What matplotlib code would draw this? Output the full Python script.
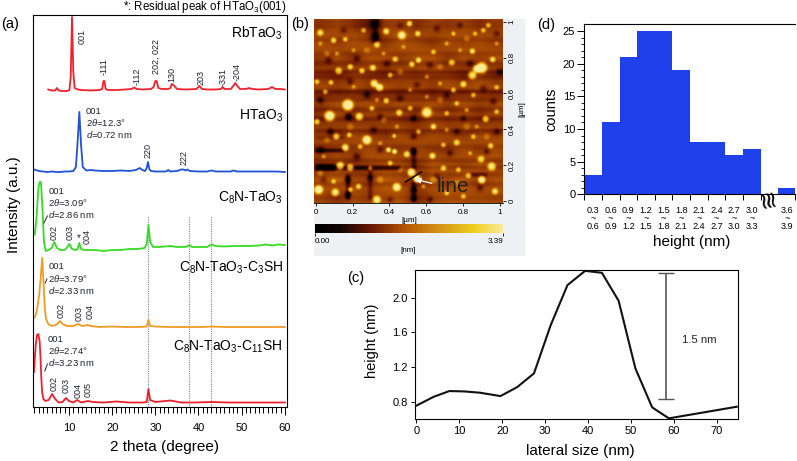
import numpy as np
import matplotlib
matplotlib.use('Agg')
import matplotlib.pyplot as plt
from matplotlib.colors import LinearSegmentedColormap
from matplotlib.patches import Rectangle

plt.rcParams['font.family'] = ['Liberation Sans', 'DejaVu Sans']
plt.rcParams['mathtext.fontset'] = 'custom'
plt.rcParams['mathtext.rm'] = 'Liberation Sans'
plt.rcParams['mathtext.it'] = 'Liberation Sans:italic'
plt.rcParams['mathtext.default'] = 'regular'

W = 797
H = 461

# ---- (a) XRD curves, intensity is an offset scale with every curve stacked
rb_x = [5.2,6.0,6.8,7.2,7.6,8.5,9.5,10.1,10.4,10.7,11.0,11.3,12,13,15,17,17.7,18.0,18.2,18.5,19,21,23,24.5,25.1,25.7,27,29,29.6,30.0,30.3,30.7,31.5,33,33.5,33.8,34.2,35,37,39.5,40.2,40.8,42,44,45.2,45.6,46,47.5,48.2,48.5,49,49.6,51,51.7,52.4,54,56.2,57,57.8,59,60]
rb_y = [317.5,316.5,316.5,319,316.5,316,316,317,330,390,335,319,317.5,317,316.5,317,318,326,326,318,317,317,317.5,318,319.5,318,317.5,318,320,326,326,319,318,318,319,323,322,318,317.5,318,321,318,317.5,317.5,318,320,318,318,322,324,321,318,318,319,318,317.5,318,320,318,318,317.5]

blue_x = [1.9,3,4,5,6,7,8,9,10,11,11.6,12.0,12.4,12.8,13.2,14,15,16,18,20,22,24,25.5,26.4,27,27.6,28.0,28.3,28.6,29,30,31,32.5,33,33.5,35,36,36.5,37,37.4,38,40,42,43,44,46,47.5,48,49,52,54,56,58,60]
blue_y = [237.5,236,235.5,235,235.5,235,235,235.5,235.5,236,240,265,295,262,240,236.5,237,236.5,236,236,236.5,236,237,239,237,236,239,245,238,236,235.5,235.5,235.5,237,235.5,236,237.5,237.5,236.5,237.5,236,235.5,235.5,236.5,235.5,235.5,235.5,236.5,235.5,235.5,235.5,235.5,235.5,235]

green_x = [1.8,2.1,2.5,2.9,3.2,3.5,3.9,4.2,4.6,5.2,6,6.6,7.2,8,9,9.6,10.1,10.7,11.5,12,12.4,12.8,13.5,14.5,16,18,20,22,24,26,27.5,28,28.4,28.8,29.5,31,33.5,35,37,37.9,38.5,40,42,43,44,46,48,50,52,54,55.5,57,58.5,60]
green_y = [172,173,190,218,225,225,195,165,156,157,159,165,159,157,157,160,163,158,157,158,164,158,157,157,157,156,157,157,158,158,159,163,182,165,160,160,161,160,160,162,160,160,160,162.5,161,160.5,161,161,161,161.5,162.5,161.5,162.5,162]

orange_x = [1.9,2.3,2.7,3.1,3.5,3.8,4.1,4.4,4.7,5.2,6,7,7.5,7.9,8.5,9.5,11,12.2,13,14.4,15,17,20,23,26,28,28.4,28.8,30,33,36,38,41,43,46,50,54,57,60]
orange_y = [89,92,100,112,132,149,125,98,88,83,81,82,84,86,83,81,81,83,81,82,81,80,80.5,80,80,80.5,87,81,80.5,80,80,80,80,80.5,80,80,80,80,80]

red_x = [1.9,2.1,2.3,2.6,2.9,3.2,3.4,3.6,3.8,4.1,4.5,5.3,6.1,6.8,7.6,8.5,9.3,10,11,11.9,12.8,14.4,15.5,18,21,24,27,28,28.4,28.8,30,33.5,36,39,43,47,52,56,60]
red_y = [35,50,62,72,73,66,50,28,14,8,6,7,13,8,4.5,5,9,6,4.5,7,4.5,6,5,4.5,5.5,4.5,4.5,5,18,7,5,6.5,4.5,4.5,5,4.5,4.5,4.5,4.5]

guide_x = [28.4, 37.9, 43.0]

a_names = ['RbTaO$_3$', 'HTaO$_3$', 'C$_8$N-TaO$_3$', 'C$_8$N-TaO$_3$-C$_3$SH', 'C$_8$N-TaO$_3$-C$_{11}$SH']

# hkl labels, (text, x pixel, y pixel)
hkl_labels = [('001',82.3,36),('-111',104,66.7),('-112',136.7,76),('202, 022',156.7,56.7),('130',172.3,75),('203',201,77.7),('-331',223.3,76.7),('-204',237.3,71.7),
              ('220',148,150),('222',184,157.7),
              ('002',54.3,232),('003',70,232),('004',87.3,236),
              ('002',61,310),('003',78.7,313),('004',90,311.7),
              ('002',54.3,383),('003',66,385),('004',77.7,390),('005',88,389)]
peak_notes = [(85.7,111.7,'001'),(85.7,122.7,r'2$\mathit{\theta}$=12.3°'),(85.7,134.3,r'$\mathit{d}$=0.72 nm'),
              (48.3,191.7,'001'),(48.3,203,r'2$\mathit{\theta}$=3.09°'),(48.3,215,r'$\mathit{d}$=2.86 nm'),
              (48.3,266.7,'001'),(48.3,278.3,r'2$\mathit{\theta}$=3.79°'),(48.3,290,r'$\mathit{d}$=2.33 nm'),
              (47.7,339.3,'001'),(47.7,350.7,r'2$\mathit{\theta}$=2.74°'),(47.7,362.7,r'$\mathit{d}$=3.23 nm')]
# small strokes that tie a note to its peak: 2theta pair, intensity pair
note_strokes = [([4.2,5.0],[184,191]),([4.5,4.9],[124,128]),([4.4,5.0],[36,43])]

# ---- (b) AFM grains: x, y (pixels in the 3x crop), radius, height
grains = [(305,105,12,.6),(222,250,11,.62),(238,262,11,.62),(143,315,16,.8),(88,348,15,.75),(177,350,11,.6),(545,203,16,.75),(530,207,11,.65),(517,225,12,.6),(380,337,15,.65),
          (200,420,13,.7),(265,450,7,.7),(283,455,7,.7),(135,443,10,.65),(55,570,13,.7),(105,578,11,.6),(120,498,11,.65),(150,503,10,.65),(335,518,12,.8),(350,537,11,.85),
          (290,562,12,.65),(230,600,12,.6),(545,540,11,.7),(575,500,12,.6),(543,478,10,.5),(397,468,9,.55),(320,463,9,.55),(115,212,10,.55),(185,212,8,.55),(218,203,9,.55),
          (150,200,8,.55),(60,97,9,.55),(100,120,8,.55),(135,117,7,.5),(258,93,9,.55),(190,90,7,.45),(328,70,8,.6),(353,100,8,.55),(230,133,9,.55),(285,177,8,.5),
          (335,192,8,.55),(355,180,8,.55),(455,187,9,.5),(517,153,8,.55),(578,178,8,.55),(400,155,7,.45),(550,90,7,.45),(565,75,7,.45),(460,100,6,.45),(525,100,6,.45),
          (270,225,7,.5),(50,245,7,.5),(92,247,7,.5),(75,275,7,.45),(490,252,9,.55),(460,270,7,.5),(520,285,7,.45),(590,262,7,.45),(258,302,8,.55),(215,325,7,.5),
          (297,338,9,.55),(330,325,7,.45),(50,365,8,.55),(108,410,9,.55),(147,405,7,.5),(282,408,6,.5),(400,380,8,.55),(355,395,7,.45),(440,340,7,.45),(470,310,7,.45),
          (557,357,9,.55),(590,335,7,.45),(470,428,9,.5),(520,410,7,.45),(430,435,7,.45),(572,438,8,.5),(430,505,8,.5),(505,527,8,.55),(475,510,7,.45),(270,490,7,.5),
          (210,505,7,.5),(175,560,8,.5),(150,570,7,.5),(100,545,7,.45),(440,580,7,.45),(490,590,7,.45),(585,575,9,.55),(180,440,7,.45),(60,130,6,.3),(160,150,6,.3),
          (110,160,6,.3),(250,160,6,.3),(310,140,6,.3),(440,130,6,.35),(480,150,6,.3),(590,130,6,.3),(380,230,6,.3),(420,250,6,.35),(330,270,6,.3),(160,260,6,.3),
          (230,300,6,.3),(380,290,6,.3),(500,330,6,.35),(290,380,6,.3),(440,390,6,.3),(530,380,6,.3),(240,430,6,.3),(510,460,6,.35),(70,470,6,.3),(370,560,6,.3),
          (80,160,9,.15),(200,150,9,.15),(300,215,9,.15),(420,200,9,.15),(500,115,9,.15),(150,380,10,.15),(250,360,9,.15),(420,300,9,.15),(500,380,10,.15),(240,540,10,.2),
          (400,540,10,.2),(470,550,9,.2),(60,520,9,.2),(300,510,8,.15),(80,420,9,.15),(560,410,9,.15)]
# dark pits scattered between the grains: x, y, radius, depth
pits = [(225,70,14,.22),(225,110,14,.22),(130,90,9,.12),(300,75,9,.1),(410,85,10,.12),(480,75,9,.12),(590,100,9,.12),(85,180,10,.14),(170,175,9,.14),(260,190,10,.14),
        (390,195,10,.14),(510,190,10,.14),(600,215,10,.16),(150,245,10,.14),(350,255,10,.14),(550,265,10,.14),(60,300,10,.16),(200,285,10,.16),(300,295,10,.14),(440,285,9,.14),
        (580,305,10,.14),(145,350,9,.3),(240,350,9,.14),(340,355,9,.18),(490,355,9,.14),(90,395,9,.18),(220,390,10,.14),(340,410,9,.16),(470,395,9,.14),(590,395,9,.14),
        (60,450,9,.16),(170,470,10,.16),(240,450,9,.14),(340,455,10,.22),(450,460,9,.14),(560,455,8,.14),(210,535,9,.18),(143,540,9,.22),(143,585,9,.22),(340,570,9,.2),
        (340,595,8,.22),(410,530,9,.12),(540,565,9,.14),(70,540,9,.12),(270,600,8,.12),(390,600,8,.14)]
# dark scan lines and gouges: x0, x1, y0, y1 (3x crop pixels), depth
dark_marks = [(45,105,495,511,.42),(105,300,498,509,.3),(45,130,448,456,.3),(45,130,410,415,.12),(137,149,525,600,.2),(335,346,445,605,.18),(218,232,60,130,.12),
              (205,215,500,600,.14),(45,610,270,279,.1),(45,610,296,303,.1),(45,610,212,219,.08),(45,610,388,394,.1),(300,610,498,506,.08),
              (45,610,60,68,.06),(500,560,520,530,.15)]
# level shift of the scan rows, one value per 14 px of the 3x crop, top row first
scan_rows = [.02,-.03,.01,.03,-.02,.02,.03,-.01,.02,-.03,.03,.01,-.04,.02,.03,-.03,-.05,.03,.02,-.04,.03,-.05,.02,.03,-.03,.02,.03,-.02,.01,.03,-.03,.03,.02,-.02,.03,-.02,.03,.01,-.02,.02]
# coarse surface level, top row first
surface_levels = [[.40,.44,.38,.30,.42,.44,.38,.44,.40,.44,.38,.42],
                  [.44,.38,.46,.42,.36,.46,.42,.36,.44,.40,.44,.38],
                  [.38,.44,.34,.44,.44,.38,.44,.46,.36,.44,.40,.44],
                  [.36,.32,.40,.38,.32,.40,.36,.40,.38,.32,.38,.34],
                  [.42,.38,.44,.36,.44,.38,.44,.36,.44,.40,.46,.40],
                  [.38,.44,.40,.44,.38,.44,.40,.44,.38,.44,.38,.44],
                  [.34,.40,.34,.38,.40,.36,.32,.40,.36,.40,.34,.38],
                  [.42,.36,.44,.40,.36,.44,.38,.44,.42,.38,.44,.40],
                  [.36,.42,.38,.44,.42,.38,.44,.38,.36,.44,.38,.44],
                  [.38,.40,.36,.40,.44,.44,.34,.46,.44,.40,.46,.40],
                  [.44,.48,.42,.38,.46,.42,.36,.44,.40,.46,.36,.44],
                  [.42,.36,.44,.40,.44,.46,.34,.42,.46,.44,.44,.42]]
afm_ticks = [0, 0.2, 0.4, 0.6, 0.8, 1]
afm_tick_labels = ['0', '0.2', '0.4', '0.6', '0.8', '1']

# ---- (c) line profile
size_nm = [0,4.1,7.7,11.1,14.8,19.6,23.5,27.4,31.3,35.2,39.3,43.2,47.1,51,54.9,58.8,74.6]
height_nm = [.754,.858,.923,.919,.904,.865,.969,1.127,1.685,2.146,2.31,2.288,1.965,1.185,.735,.608,.742]
bar_x = 58.05
bar_low = 0.827
bar_high = 2.288

# ---- (d) histogram, last bar sits after the axis break
counts = [3,11,21,25,25,19,8,8,6,7,1]
bin_pos = [0,1,2,3,4,5,6,7,8,9,11]
bin_low = ['0.3','0.6','0.9','1.2','1.5','1.8','2.1','2.4','2.7','3.0','3.6']
bin_high = ['0.6','0.9','1.2','1.5','1.8','2.1','2.4','2.7','3.0','3.3','3.9']


def fx(x):
    return x/W

def fy(y):
    return 1-y/H

def axes_px(fig, left, top, right, bottom):
    # axes placed from pixel edges of the picture
    return fig.add_axes([left/W, 1-bottom/H, (right-left)/W, (bottom-top)/H])

def label_px(fig, x, y, s, **kw):
    kw.setdefault('ha', 'center')
    kw.setdefault('va', 'center')
    return fig.text(fx(x), fy(y), s, **kw)

def blur(a, n):
    # box blur along both directions, edges held
    k = np.ones(n)/n
    m = n//2
    run = lambda v: np.convolve(np.pad(v, (m, n-1-m), mode='edge'), k, mode='valid')
    return np.apply_along_axis(run, 1, np.apply_along_axis(run, 0, a))


fig = plt.figure(figsize=(W/100, H/100), dpi=100, facecolor='white')

# panel letters and the note on top
label_px(fig, 10, 24, '(a)', fontsize=10.5)
label_px(fig, 300, 24, '(b)', fontsize=10.5)
label_px(fig, 546, 25, '(d)', fontsize=10.5)
label_px(fig, 356, 278, '(c)', fontsize=10.5)
label_px(fig, 287, 7, '*: Residual peak of HTaO$_3$(001)', ha='right', fontsize=8.3)

# (a)
ax = axes_px(fig, 32.5, 15.5, 287, 407)
ax.set_xlim(1.55, 60.5)
ax.set_ylim(0, 391.5)
ax.vlines(guide_x, 0, 190, color='#7788aa', lw=0.8, ls=(0, (1, 1)), zorder=1)
ax.plot(rb_x, rb_y, color='#f2202a', lw=1.3, zorder=2)
ax.plot(blue_x, blue_y, color='#1f52d8', lw=1.3, zorder=2)
ax.plot(green_x, green_y, color='#35dc22', lw=1.3, zorder=2)
ax.plot(orange_x, orange_y, color='#f09a22', lw=1.3, zorder=2)
ax.plot(red_x, red_y, color='#f0202a', lw=1.3, zorder=2)
for sx, sy in note_strokes:
    ax.plot(sx, sy, color='#222233', lw=0.7, zorder=3)
ax.set_yticks([])
ax.set_xticks([10, 20, 30, 40, 50, 60])
ax.set_xticks(np.arange(2, 61), minor=True)
ax.tick_params(axis='x', which='major', length=5.8, width=0.7, labelsize=8, pad=5.5)
ax.tick_params(axis='x', which='minor', length=4, width=0.7)
for s in ax.spines.values():
    s.set_linewidth(0.8)
label_px(fig, 165, 447, '2 theta (degree)', fontsize=11)
label_px(fig, 14, 205, 'Intensity (a.u.)', fontsize=11, rotation=90)
for name, yp in zip(a_names, [33, 116, 198, 268, 347]):
    label_px(fig, 283, yp, name, ha='right', fontsize=10)
for s, xp, yp in hkl_labels:
    label_px(fig, xp, yp, s, rotation=90, fontsize=6.5, color='#222233')
label_px(fig, 79, 238, '*', fontsize=7, color='#222233')
for xp, yp, s in peak_notes:
    label_px(fig, xp, yp, s, ha='left', fontsize=6.8, color='#222233')

# (b) grey card behind the AFM image
fig.patches.append(Rectangle((fx(314), fy(256)), 211/W, 237/H, transform=fig.transFigure, facecolor='#eef1f3', edgecolor='none', zorder=-1))

zx, zy = np.meshgrid(np.arange(42, 610, 2.0), np.arange(57, 610, 2.0))
levels = np.array(surface_levels)
row = np.clip(((zy-57)/553*12).astype(int), 0, 11)
col = np.clip(((zx-42)/568*12).astype(int), 0, 11)
surface = blur(levels[row, col], 25)
shifts = np.array(scan_rows)
marks = -shifts[np.clip(((zy-57)/14).astype(int), 0, len(scan_rows)-1)]
for x0, x1, y0, y1, depth in dark_marks:
    marks = marks+depth*((zx >= x0) & (zx <= x1) & (zy >= y0) & (zy <= y1))
surface = surface-blur(marks, 5)
for px_, py_, r, depth in pits:
    surface = surface-1.3*depth*np.exp(-((zx-px_)**2+(zy-py_)**2)/r**2)
# grains are flat topped, so the fourth power of the distance
for gx, gy, r, amp in grains:
    surface = surface+amp*np.exp(-(((zx-gx)**2+(zy-gy)**2)/r**2)**2)

afm_cmap = LinearSegmentedColormap.from_list('afm', [(0, '#000000'), (0.14, '#120400'), (0.3, '#6a1800'), (0.5, '#bb5c06'), (0.62, '#cf8410'), (0.85, '#f0d020'), (1, '#f8ec9c')])
ax = axes_px(fig, 314, 19, 502.7, 203)
ax.set_facecolor('black')
x_lo, x_hi = -0.009, 1.015
y_lo, y_hi = -0.011, 1.015
ax.imshow(blur(surface, 3), cmap=afm_cmap, vmin=0, vmax=1, extent=[x_lo, x_hi, y_lo, y_hi], aspect='auto', interpolation='bilinear')
ax.set_xlim(x_lo, x_hi)
ax.set_ylim(y_lo, y_hi)
ax.yaxis.tick_right()
ax.set_xticks(afm_ticks, afm_tick_labels)
ax.set_yticks(afm_ticks, afm_tick_labels)
ax.tick_params(axis='both', length=2.5, width=0.6, labelsize=5.8, pad=1.5)
for t in ax.get_yticklabels():
    t.set_rotation(90)
    t.set_va('center')
for s in ['top', 'right', 'left']:
    ax.spines[s].set_visible(False)
ax.spines['bottom'].set_linewidth(0.6)
ax.plot([0.487, 0.574], [0.106, 0.162], color='black', lw=1)
ax.annotate('', xy=(0.525, 0.125), xytext=(0.645, 0.095), arrowprops=dict(arrowstyle='-|>', color='white', lw=0.9, mutation_scale=8))
ax.text(0.655, 0.08, 'line', fontsize=15, color='#222222', ha='left', va='center')
label_px(fig, 409, 220, '[µm]', fontsize=5.8)
label_px(fig, 521.7, 109, '[µm]', fontsize=5.8, rotation=90)

ax = axes_px(fig, 315, 224, 503, 233)
ax.imshow(np.linspace(0, 1, 256)[None, :], cmap=afm_cmap, vmin=0, vmax=1, extent=[0, 3.39, 0, 1], aspect='auto')
ax.set_yticks([])
ax.set_xticks([0, 3.39], ['', ''])
ax.tick_params(axis='x', length=2.5, width=0.6)
for s in ax.spines.values():
    s.set_visible(False)
label_px(fig, 315, 241, '0.00', ha='left', fontsize=5.8)
label_px(fig, 503, 241, '3.39', ha='right', fontsize=5.8)
label_px(fig, 408, 250.7, '[nm]', fontsize=5.8)

# (c)
ax = axes_px(fig, 415, 270, 738.3, 418.7)
ax.plot(size_nm, height_nm, color='#111111', lw=1.5, clip_on=False, zorder=3)
ax.errorbar([bar_x], [(bar_low+bar_high)/2], yerr=[(bar_high-bar_low)/2], color='#555555', lw=1.2, capsize=5.5, capthick=1)
ax.text(61.8, 1.51, '1.5 nm', fontsize=8.2, ha='left', va='center', color='#222222')
ax.set_xlim(-0.3, 74.96)
ax.set_ylim(0.604, 2.32)
ax.set_xticks([0, 10, 20, 30, 40, 50, 60, 70])
ax.set_yticks([0.8, 1.2, 1.6, 2.0])
ax.tick_params(axis='both', length=3, width=0.7, labelsize=8, pad=2)
for s in ax.spines.values():
    s.set_linewidth(0.8)
label_px(fig, 580, 451, 'lateral size (nm)', fontsize=11)
label_px(fig, 372, 341, 'height (nm)', fontsize=10.5, rotation=90)

# (d)
ax = axes_px(fig, 584.3, 24, 795, 194.3)
ax.bar(bin_pos, counts, width=1.0, align='edge', color='#1f40ea', edgecolor='none')
ax.set_xlim(0, 11.95)
ax.set_ylim(0, 26.08)
ax.set_xticks([0, 1, 2, 3, 4, 5, 6, 7, 8, 9, 10, 11.95], [])
ax.set_yticks([0, 5, 10, 15, 20, 25])
ax.set_yticks(np.arange(0, 26), minor=True)
ax.tick_params(axis='x', length=4.5, width=0.7)
ax.tick_params(axis='y', which='major', length=5, width=0.7, labelsize=8, pad=1.5)
ax.tick_params(axis='y', which='minor', length=2.5, width=0.6)
ax.spines['right'].set_visible(False)
ax.spines['top'].set_linewidth(0.8)
ax.spines['left'].set_linewidth(0.8)
ax.spines['bottom'].set_linewidth(0.8)
for p, lo, hi in zip(bin_pos, bin_low, bin_high):
    xc = 584.3+(p+0.5)*17.63
    label_px(fig, xc, 218.5, lo+'\n~\n'+hi, fontsize=6.6, linespacing=0.92)
label_px(fig, 768.7, 197, '≋', fontsize=17, rotation=100, family='DejaVu Sans')
label_px(fig, 692, 242, 'height (nm)', fontsize=11)
label_px(fig, 551, 109, 'counts', fontsize=10.5, rotation=90)

fig.savefig('out.png', dpi=100)
